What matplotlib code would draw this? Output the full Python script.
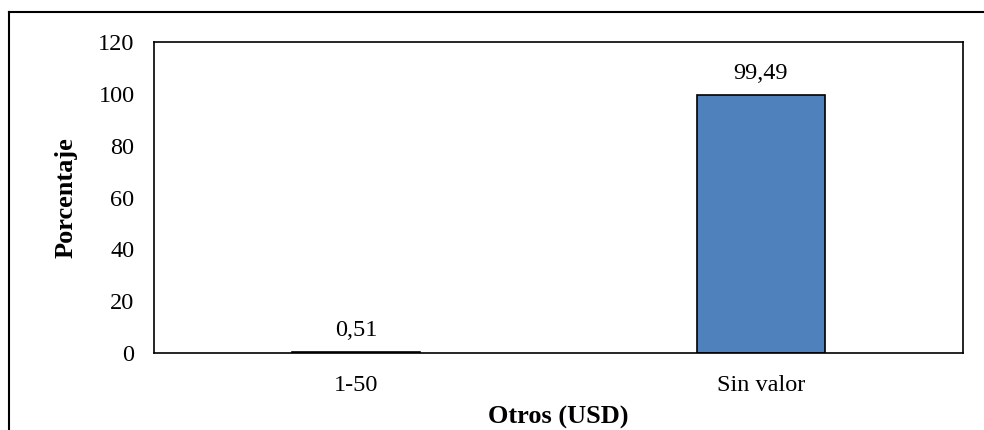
import matplotlib.pyplot as plt
from matplotlib.lines import Line2D

plt.rcParams['font.family'] = ['Liberation Serif', 'DejaVu Serif']

categorias = ['1-50', 'Sin valor']
porcentajes = [0.51, 99.49]
etiquetas = ['0,51', '99,49']
yticks = [0, 20, 40, 60, 80, 100, 120]

fig = plt.figure(figsize=(9.84, 4.30), dpi=100)
ax = fig.add_axes([154 / 984, 77 / 430, 809 / 984, 311 / 430])

x = range(len(categorias))
bars = ax.bar(x, porcentajes, width=0.316, color='#4F81BD', edgecolor='black', linewidth=1.2)
for b, t in zip(bars, etiquetas):
    ax.annotate(t, (b.get_x() + b.get_width() / 2, b.get_height()),
                xytext=(0, 8), textcoords='offset points', ha='center', va='bottom', fontsize=17.5)

ax.set_xlim(-0.5, 1.5)
ax.set_ylim(0, 120)
ax.set_yticks(yticks)
ax.set_xticks(list(x))
ax.set_xticklabels(categorias)
ax.tick_params(axis='both', length=0, labelsize=17.5)
ax.tick_params(axis='y', pad=14)
ax.tick_params(axis='x', pad=16)
for s in ax.spines.values():
    s.set_linewidth(1.2)

ax.set_ylabel('Porcentaje', fontsize=19, fontweight='bold', labelpad=15)
ax.set_xlabel('Otros (USD)', fontsize=19, fontweight='bold', labelpad=7)

# borde exterior del grafico (recortado a la derecha y abajo)
fig.add_artist(Line2D([9 / 984, 1], [1 - 12 / 430, 1 - 12 / 430], color='black', lw=1.5))
fig.add_artist(Line2D([9 / 984, 9 / 984], [0, 1 - 12 / 430], color='black', lw=1.5))

fig.savefig('out.png', dpi=100)
